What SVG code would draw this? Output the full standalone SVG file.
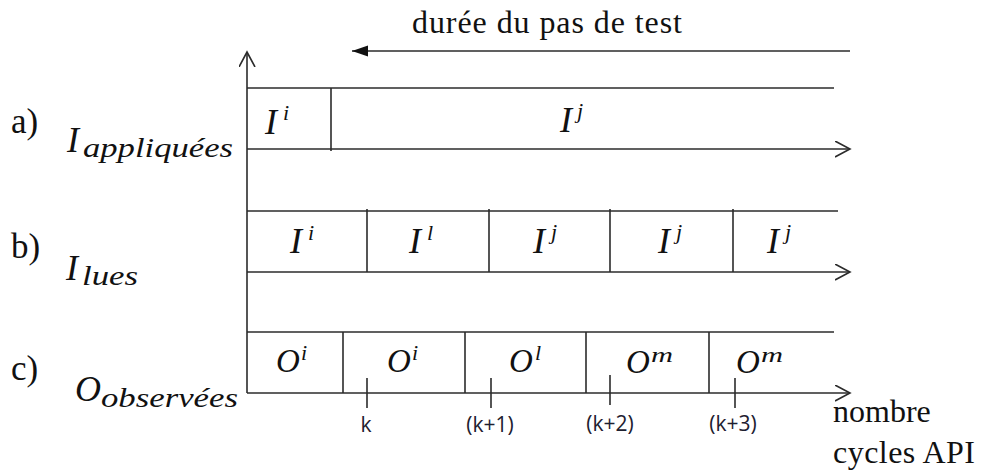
<svg xmlns="http://www.w3.org/2000/svg" width="981" height="471" viewBox="0 0 981 471">
<style>
.ln{stroke:#2b2b2b;stroke-width:1.6;fill:none}
.rm{font-family:"Liberation Serif",serif;font-size:32px;fill:#111}
.lb{font-family:"Liberation Serif",serif;font-size:35px;fill:#111}
.mi{font-family:"Liberation Serif",serif;font-style:italic;font-size:36px;fill:#111}
.mo{font-family:"Liberation Serif",serif;font-style:italic;font-size:33px;fill:#111}
.sup{font-family:"Liberation Serif",serif;font-style:italic;font-size:22px;fill:#111}
.sub{font-family:"Liberation Serif",serif;font-style:italic;font-size:27px;fill:#111}
.tk{font-family:"Open Sans",sans-serif;font-size:21px;fill:#1e2030}
</style>
<defs>
<marker id="open" markerWidth="20" markerHeight="20" refX="15" refY="8" orient="auto" markerUnits="userSpaceOnUse">
<path d="M0,0 L15,8 L0,16" stroke="#2b2b2b" stroke-width="1.6" fill="none"/>
</marker>
<marker id="fill" markerWidth="20" markerHeight="14" refX="16" refY="5.5" orient="auto" markerUnits="userSpaceOnUse">
<path d="M0,0 L16,5.5 L0,11 Z" fill="#111"/>
</marker>
</defs>
<rect width="981" height="471" fill="#fff"/>

<g id="connectors">
<line class="ln" x1="247" y1="393" x2="247" y2="52" marker-end="url(#open)"/>
<line class="ln" x1="850" y1="51" x2="352" y2="51" marker-end="url(#fill)"/>
<line class="ln" x1="247" y1="149" x2="850" y2="149" marker-end="url(#open)"/>
<line class="ln" x1="247" y1="272" x2="850" y2="272" marker-end="url(#open)"/>
<line class="ln" x1="247" y1="393" x2="850" y2="393" marker-end="url(#open)"/>
</g>

<g id="title">
<text class="rm" x="412" y="33" textLength="270" lengthAdjust="spacing">durée du pas de test</text>
</g>

<g id="row-a">
<text class="lb" x="11" y="133">a)</text>
<text class="mi" x="67" y="152">I</text>
<text class="sub" x="83" y="157" textLength="150" lengthAdjust="spacingAndGlyphs">appliquées</text>
<line class="ln" x1="247" y1="88" x2="834" y2="88"/>
<line class="ln" x1="331" y1="88" x2="331" y2="151"/>
<text class="mi" x="265" y="134">I</text><text class="sup" x="283" y="120">i</text>
<text class="mi" x="560" y="132">I</text><text class="sup" x="577" y="118">j</text>
</g>

<g id="row-b">
<text class="lb" x="11" y="258">b)</text>
<text class="mi" x="66" y="280">I</text>
<text class="sub" x="82" y="285" textLength="56" lengthAdjust="spacingAndGlyphs">lues</text>
<line class="ln" x1="247" y1="211" x2="838" y2="211"/>
<line class="ln" x1="367" y1="209" x2="367" y2="272"/>
<line class="ln" x1="489" y1="209" x2="489" y2="272"/>
<line class="ln" x1="610" y1="209" x2="610" y2="272"/>
<line class="ln" x1="733" y1="209" x2="733" y2="272"/>
<text class="mi" x="290" y="253">I</text><text class="sup" x="308" y="240">i</text>
<text class="mi" x="409" y="253">I</text><text class="sup" x="427" y="240">l</text>
<text class="mi" x="533" y="253">I</text><text class="sup" x="551" y="239">j</text>
<text class="mi" x="658" y="253">I</text><text class="sup" x="676" y="239">j</text>
<text class="mi" x="767" y="253">I</text><text class="sup" x="785" y="239">j</text>
</g>

<g id="row-c">
<text class="lb" x="11" y="380">c)</text>
<text class="mi" x="75" y="401">O</text>
<text class="sub" x="101" y="407" textLength="137" lengthAdjust="spacingAndGlyphs">observées</text>
<line class="ln" x1="247" y1="332" x2="834" y2="332"/>
<line class="ln" x1="343" y1="332" x2="343" y2="393"/>
<line class="ln" x1="465" y1="332" x2="465" y2="393"/>
<line class="ln" x1="586" y1="332" x2="586" y2="393"/>
<line class="ln" x1="709" y1="332" x2="709" y2="393"/>
<text class="mo" x="276" y="372">O</text><text class="sup" x="301" y="360">i</text>
<text class="mo" x="387" y="372">O</text><text class="sup" x="412" y="360">i</text>
<text class="mo" x="509" y="372">O</text><text class="sup" x="535" y="360">l</text>
<text class="mo" x="626" y="373">O</text><text class="sup" x="651" y="362" textLength="22" lengthAdjust="spacingAndGlyphs">m</text>
<text class="mo" x="736" y="373">O</text><text class="sup" x="761" y="362" textLength="22" lengthAdjust="spacingAndGlyphs">m</text>
</g>

<g id="ticks">
<line class="ln" x1="367" y1="378" x2="367" y2="408"/>
<line class="ln" x1="491" y1="378" x2="491" y2="408"/>
<line class="ln" x1="610" y1="375" x2="610" y2="405"/>
<line class="ln" x1="735" y1="378" x2="735" y2="408"/>
<text class="tk" x="366" y="432" text-anchor="middle">k</text>
<text class="tk" x="490" y="432" text-anchor="middle">(k+1)</text>
<text class="tk" x="610" y="431" text-anchor="middle">(k+2)</text>
<text class="tk" x="733" y="431" text-anchor="middle">(k+3)</text>
</g>

<g id="x-label">
<text class="rm" x="833" y="422">nombre</text>
<text class="rm" x="833" y="463" textLength="142" lengthAdjust="spacing">cycles API</text>
</g>
</svg>
